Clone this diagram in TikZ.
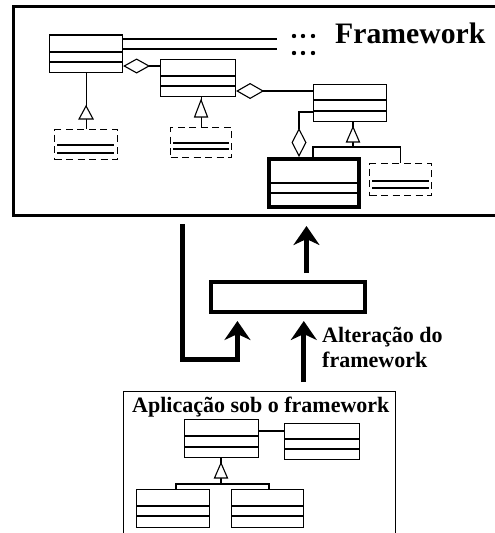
\documentclass[tikz,border=0pt]{standalone}
\usepackage{fontspec}
\setmainfont{Liberation Serif}
\usetikzlibrary{arrows.meta,calc}
\newcommand\fwfont{\fontsize{29.7}{32}\selectfont\bfseries}
\newcommand\lblfont{\fontsize{22}{25}\selectfont\bfseries}
\begin{document}
\begin{tikzpicture}[x=1pt,y=-1pt,
  cls/.style={draw, line width=1.1pt, inner sep=0pt, anchor=north west},
  dcls/.style={cls, dash pattern=on 7pt off 4.5pt},
  ln/.style={line width=1.1pt},
  thickln/.style={line width=2.2pt},
  tri/.style={ln, fill=white},
  bigarr/.style={line width=5pt, -{Stealth[length=19pt,width=26pt,inset=6pt]}}
]
\useasboundingbox (0,0) rectangle (495,533);
\clip (0,0) rectangle (495,533);

% framework frame
\node[draw, line width=3pt, inner sep=0pt, anchor=north west,
      minimum width=500pt, minimum height=209pt] (fw) at (12,5) {};

% class 1
\node[cls, minimum width=73pt, minimum height=37pt] (c1) at (49,35) {};
\draw[ln] (c1.west |- 0,52) -- (c1.east |- 0,52);
\draw[ln] (c1.west |- 0,62) -- (c1.east |- 0,62);
\draw[thickln] (c1.north west) -- (c1.north east);

% lines to dots
\coordinate (dots) at (277,44);
\draw[ln] (c1.east |- 0,39) -- (dots |- 0,39);
\draw[ln] (c1.east |- 0,49) -- (dots |- 0,49);
\foreach \xx in {294,303,313} \foreach \yy in {36,53} \fill (\xx,\yy) circle (2.2pt);
\node[anchor=base west, inner sep=0pt, font=\fwfont] (fwtitle) at (335,43) {Framework};

% class 2
\node[cls, minimum width=75pt, minimum height=37pt] (c2) at (160,59) {};
\draw[ln] (c2.west |- 0,76) -- (c2.east |- 0,76);
\draw[ln] (c2.west |- 0,86) -- (c2.east |- 0,86);
\draw[ln, -{Diamond[open,length=27pt,width=15pt]}] (c2.west |- 0,66) -- (c1.east |- 0,66);

% class 3
\node[cls, minimum width=73pt, minimum height=37pt] (c3) at (313,84) {};
\draw[ln] (c3.west |- 0,100) -- (c3.east |- 0,100);
\draw[ln] (c3.west |- 0,111) -- (c3.east |- 0,111);
\draw[ln, -{Diamond[open,length=28pt,width=16pt]}] (c3.west |- 0,91) -- (c2.east |- 0,91);

% class 4 (thick)
\node[cls, line width=3.5pt, minimum width=90pt, minimum height=48pt] (c4) at (267,157) {};
\draw[ln] (c4.west |- 0,183) -- (c4.east |- 0,183);
\draw[ln] (c4.west |- 0,193) -- (c4.east |- 0,193);
\draw[ln, -{Diamond[open,length=29pt,width=15pt]}] (c3.west |- 0,112) -| (c4.north -| 299,0);

% dashed 1
\node[dcls, minimum width=63pt, minimum height=30pt] (d1) at (54,129) {};
\draw[ln] ($(d1.north west)+(3,16)$) -- ($(d1.north east)+(-4,16)$);
\draw[ln] ($(d1.north west)+(3,24)$) -- ($(d1.north east)+(-4,24)$);
\draw[ln] (d1.north) -- (d1.north |- c1.south);
\draw[tri] (d1.north |- 0,106) -- ++(7,13) -- ++(-14,0) -- cycle;

% dashed 2
\node[dcls, minimum width=61pt, minimum height=30pt] (d2) at (170,127) {};
\draw[ln] ($(d2.north west)+(3,16)$) -- ($(d2.north east)+(-3,16)$);
\draw[ln] ($(d2.north west)+(3,22)$) -- ($(d2.north east)+(-3,22)$);
\draw[ln] (d2.north) -- (d2.north |- c2.south);
\draw[tri] (d2.north |- 0,100) -- ++(6.5,17) -- ++(-13,0) -- cycle;

% dashed 3
\node[dcls, minimum width=62pt, minimum height=32pt] (d3) at (369,163) {};
\draw[ln] ($(d3.north west)+(3,18)$) -- ($(d3.north east)+(-3,18)$);
\draw[ln] ($(d3.north west)+(3,25)$) -- ($(d3.north east)+(-3,25)$);
\coordinate (ih3) at (353,147);
\draw[ln] (ih3 |- c3.south) -- (ih3);
\draw[ln] (c4.north -| 313,0) |- (ih3) -| (d3.north);
\draw[tri] (ih3 |- 0,127) -- ++(6.5,15) -- ++(-13,0) -- cycle;

% middle box and arrows
\node[draw, line width=4pt, inner sep=0pt, anchor=north west,
      minimum width=154pt, minimum height=30pt] (mid) at (209,280) {};
\coordinate (ua) at ($(mid.north west)!0.617!(mid.north east)$);
\draw[bigarr, shorten <=7pt, shorten >=9pt] (ua) -- (ua |- fw.south);
\coordinate (ls) at (182,224);
\coordinate (la) at ($(mid.south west)!0.18!(mid.south east)$);
\draw[bigarr, shorten >=7pt] (ls) |- (la |- 0,359) -- (la);

% application box
\node[draw, line width=1.1pt, inner sep=0pt, anchor=north west,
      minimum width=272pt, minimum height=160pt] (app) at (123,391) {};
\coordinate (ba) at ($(mid.south west)!0.6!(mid.south east)$);
\draw[bigarr, shorten <=9pt, shorten >=7pt] (ba |- app.north) -- (ba);
\node[anchor=north west, inner sep=0pt, align=left, font=\lblfont] (lbl) at (322,327) {Alteração do\\framework};

\node[anchor=base west, inner sep=0pt, font=\lblfont] (apptitle) at (132,412) {Aplicação sob o framework};

% bottom classes
\node[cls, minimum width=74pt, minimum height=38pt] (cA) at (184,419) {};
\draw[ln] (cA.west |- 0,436) -- (cA.east |- 0,436);
\draw[ln] (cA.west |- 0,447) -- (cA.east |- 0,447);
\node[cls, minimum width=75pt, minimum height=36pt] (cB) at (284,423) {};
\draw[thickln] (cB.west |- 0,439) -- (cB.east |- 0,439);
\draw[ln] (cB.west |- 0,449) -- (cB.east |- 0,449);
\draw[ln] (cA.east |- 0,431) -- (cB.west |- 0,431);

\node[cls, minimum width=73pt, minimum height=38pt] (cC) at (136,489) {};
\draw[thickln] (cC.west |- 0,506) -- (cC.east |- 0,506);
\draw[ln] (cC.west |- 0,516) -- (cC.east |- 0,516);
\node[cls, minimum width=72pt, minimum height=38pt] (cD) at (231,489) {};
\draw[thickln] (cD.west |- 0,506) -- (cD.east |- 0,506);
\draw[ln] (cD.west |- 0,516) -- (cD.east |- 0,516);

\coordinate (ihb) at (221,484);
\draw[ln] (ihb |- cA.south) -- (ihb);
\draw[ln] (cC.north -| 176,0) |- (ihb) -| (cD.north -| 269,0);
\draw[tri] (ihb |- 0,463) -- ++(6.5,15) -- ++(-13,0) -- cycle;
\end{tikzpicture}
\end{document}
